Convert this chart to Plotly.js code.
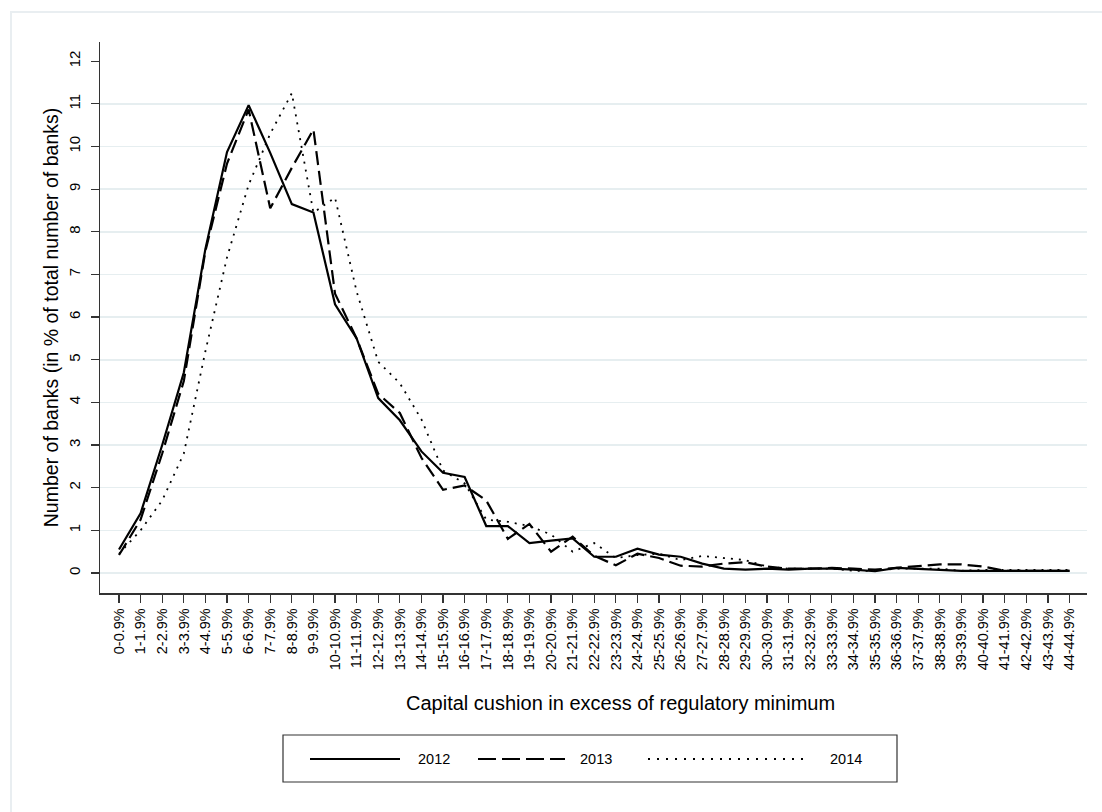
<!DOCTYPE html>
<html>
<head>
<meta charset="utf-8">
<script src="https://cdn.plot.ly/plotly-3.0.1.min.js"></script>
<style>html,body{margin:0;padding:0;background:#fff;}#chart{width:1102px;height:812px;}</style>
</head>
<body>
<div id="chart"></div>
<script>
const categories = ["0-0.9%","1-1.9%","2-2.9%","3-3.9%","4-4.9%","5-5.9%","6-6.9%","7-7.9%","8-8.9%","9-9.9%",
"10-10.9%","11-11.9%","12-12.9%","13-13.9%","14-14.9%","15-15.9%","16-16.9%","17-17.9%","18-18.9%","19-19.9%",
"20-20.9%","21-21.9%","22-22.9%","23-23.9%","24-24.9%","25-25.9%","26-26.9%","27-27.9%","28-28.9%","29-29.9%",
"30-30.9%","31-31.9%","32-32.9%","33-33.9%","34-34.9%","35-35.9%","36-36.9%","37-37.9%","38-38.9%","39-39.9%",
"40-40.9%","41-41.9%","42-42.9%","43-43.9%","44-44.9%"];

const y2012 = [0.55,1.4,3.0,4.7,7.6,9.87,10.97,9.85,8.65,8.45,
6.3,5.5,4.1,3.58,2.85,2.35,2.25,1.1,1.1,0.7,
0.76,0.81,0.38,0.38,0.57,0.43,0.38,0.22,0.1,0.08,
0.1,0.08,0.1,0.1,0.08,0.04,0.12,0.1,0.08,0.05,
0.05,0.05,0.05,0.05,0.05];

const y2013 = [0.42,1.25,2.8,4.5,7.55,9.6,10.87,8.55,9.5,10.4,
6.55,5.5,4.2,3.75,2.7,1.95,2.05,1.7,0.8,1.15,
0.5,0.85,0.4,0.18,0.45,0.35,0.17,0.15,0.22,0.25,
0.15,0.1,0.1,0.12,0.1,0.08,0.12,0.16,0.2,0.2,
0.15,0.05,0.05,0.05,0.05];

const y2014 = [0.45,1.0,1.7,2.8,5.2,7.4,9.1,10.3,11.25,8.45,
8.8,6.6,4.95,4.45,3.6,2.4,2.1,1.25,1.2,1.1,
0.9,0.5,0.7,0.35,0.42,0.45,0.3,0.4,0.35,0.3,
0.15,0.1,0.1,0.1,0.05,0.05,0.1,0.1,0.1,0.05,
0.07,0.07,0.07,0.07,0.07];

const seriesNames = ["2012","2013","2014"];
const yTicks = [0,1,2,3,4,5,6,7,8,9,10,11,12];
const gridTicks = [0,1,2,3,4,5,6,7,8,9,10,11];

// pixel -> paper helpers (plot area: x 100..1087, y 42..593)
const L = 100, R = 1087, T = 42, B = 593;
const px = p => (p - L) / (R - L);
const py = p => (B - p) / (B - T);

const FONT = "Liberation Sans, Arial, sans-serif";

const traces = [
  {x: categories, y: y2012, name: seriesNames[0], type: "scatter", mode: "lines",
   line: {color: "#000", width: 2.2}, showlegend: false},
  {x: categories, y: y2013, name: seriesNames[1], type: "scatter", mode: "lines",
   line: {color: "#000", width: 2.2, dash: "14px,6px"}, showlegend: false},
  {x: categories, y: y2014, name: seriesNames[2], type: "scatter", mode: "lines",
   line: {color: "#000", width: 1.8, dash: "2px,6px"}, showlegend: false}
];

const legY = py(759);
const shapes = [
  {type: "rect", xref: "paper", yref: "paper", x0: px(11), x1: px(1115), y0: py(12), y1: py(830),
   line: {color: "#e9eef1", width: 2}, layer: "below"},
  {type: "rect", xref: "paper", yref: "paper", x0: px(283), x1: px(897), y0: py(735), y1: py(782),
   line: {color: "#333", width: 1.2}},
  {type: "line", xref: "paper", yref: "paper", x0: px(310), x1: px(400), y0: legY, y1: legY,
   line: {color: "#000", width: 2.2}},
  {type: "line", xref: "paper", yref: "paper", x0: px(478), x1: px(565), y0: legY, y1: legY,
   line: {color: "#000", width: 2.2, dash: "18px,6px"}},
  {type: "line", xref: "paper", yref: "paper", x0: px(648), x1: px(805), y0: legY, y1: legY,
   line: {color: "#000", width: 1.8, dash: "2px,7px"}}
];

const annotations = [
  {text: "Capital cushion in excess of regulatory minimum", xref: "paper", yref: "paper",
   x: px(620), y: py(703), xanchor: "center", yanchor: "middle", showarrow: false,
   font: {family: FONT, size: 20, color: "#000"}},
  {text: seriesNames[0], xref: "paper", yref: "paper", x: px(416), y: legY, xanchor: "left", yanchor: "middle",
   showarrow: false, font: {family: FONT, size: 14.5, color: "#000"}},
  {text: seriesNames[1], xref: "paper", yref: "paper", x: px(578), y: legY, xanchor: "left", yanchor: "middle",
   showarrow: false, font: {family: FONT, size: 14.5, color: "#000"}},
  {text: seriesNames[2], xref: "paper", yref: "paper", x: px(828), y: legY, xanchor: "left", yanchor: "middle",
   showarrow: false, font: {family: FONT, size: 14.5, color: "#000"}}
];

const layout = {
  width: 1102, height: 812,
  margin: {l: L, r: 1102 - R, t: T, b: 812 - B},
  paper_bgcolor: "#fff", plot_bgcolor: "#fff",
  font: {family: FONT, color: "#000"},
  showlegend: false,
  xaxis: {
    type: "category", range: [-0.88, 44.81],
    tickangle: -90, ticks: "outside", ticklen: 8, tickwidth: 1.2, tickcolor: "#333",
    showline: true, linecolor: "#333", linewidth: 1.5, showgrid: false, zeroline: false,
    tickfont: {family: FONT, size: 14.5, color: "#000"}, automargin: false
  },
  yaxis: {
    range: [-0.47, 12.45], tickvals: gridTicks, showticklabels: false, ticks: "",
    showgrid: true, gridcolor: "#e6eef0", gridwidth: 1.6, zeroline: false, showline: false,
    automargin: false
  },
  yaxis2: {
    overlaying: "y", side: "left", anchor: "x", range: [-0.47, 12.45],
    tickvals: yTicks, ticktext: yTicks.map(String), tickangle: -90,
    ticks: "outside", ticklen: 8, tickwidth: 1.2, tickcolor: "#333", ticklabelstandoff: 5,
    showline: true, linecolor: "#333", linewidth: 1.5, showgrid: false, zeroline: false,
    tickfont: {family: FONT, size: 15, color: "#000"}, automargin: false,
    title: {text: "Number of banks (in % of total number of banks)", standoff: 1,
            font: {family: FONT, size: 19.5, color: "#000"}}
  },
  shapes: shapes,
  annotations: annotations
};

// invisible helper trace so the labelled y-axis (yaxis2) is drawn
traces.push({x: [categories[0]], y: [0], yaxis: "y2", mode: "markers", marker: {opacity: 0},
             hoverinfo: "skip", showlegend: false});

Plotly.newPlot("chart", traces, layout, {displayModeBar: false, staticPlot: true});
</script>
</body>
</html>
